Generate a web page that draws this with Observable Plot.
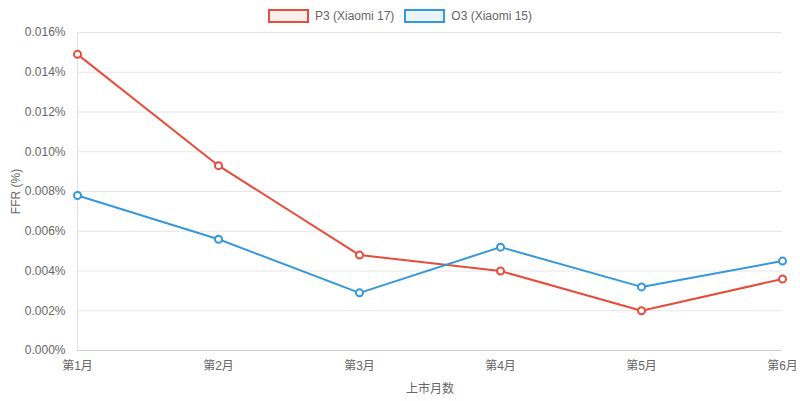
<!DOCTYPE html>
<html><head><meta charset="utf-8">
<script src="https://cdn.jsdelivr.net/npm/d3@7"></script>
<script src="https://cdn.jsdelivr.net/npm/@observablehq/plot@0.6"></script>
<style>
body{margin:0;background:#fff;font-family:"Liberation Sans",Arial,"Noto Sans CJK SC",sans-serif;}
#legend{height:24px;display:flex;justify-content:center;align-items:center;gap:0;font-size:12px;color:#666;padding-top:8px;box-sizing:border-box;}
.item{display:flex;align-items:center;margin:0 5px;}
.box{width:37px;height:10px;border-width:2px;border-style:solid;margin-right:6px;}
</style></head><body>
<div id="legend"></div>
<div id="chart"></div>
<script>
const months = ["第1月","第2月","第3月","第4月","第5月","第6月"];
const seriesNames = ["P3 (Xiaomi 17)","O3 (Xiaomi 15)"];
const p3 = [0.0149,0.0093,0.0048,0.0040,0.0020,0.0036];
const o3 = [0.0078,0.0056,0.0029,0.0052,0.0032,0.0045];
const yTicks = [0,0.002,0.004,0.006,0.008,0.010,0.012,0.014,0.016];
const colors = ["#e74c3c","#3498db"];
const fills = ["rgba(231,76,60,0.1)","rgba(52,152,219,0.1)"];

const data = [];
[p3,o3].forEach((arr,si)=>arr.forEach((v,i)=>data.push({series:seriesNames[si],month:months[i],v})));

const leg = document.getElementById("legend");
seriesNames.forEach((n,i)=>{
  const it=document.createElement("div");it.className="item";
  const b=document.createElement("div");b.className="box";b.style.borderColor=colors[i];b.style.background=fills[i];
  const t=document.createElement("span");t.textContent=n;
  it.appendChild(b);it.appendChild(t);leg.appendChild(it);
});

const chart = Plot.plot({
  width:800,height:377,
  marginLeft:77,marginRight:18,marginTop:8,marginBottom:51,
  style:{fontFamily:'"Liberation Sans",Arial,"Noto Sans CJK SC",sans-serif',fontSize:"12px",color:"#666",background:"#fff"},
  x:{type:"point",domain:months,padding:0},
  y:{domain:[0,0.016]},
  color:{domain:seriesNames,range:colors},
  marks:[
    Plot.gridY(yTicks,{stroke:"#e6e6e6",strokeOpacity:1}),
    Plot.ruleX([months[0]],{stroke:"#e0e0e0"}),
    Plot.ruleY([0],{stroke:"#cfcfcf"}),
    Plot.axisY(yTicks,{tickSize:0,tickPadding:12,tickFormat:d=>d.toFixed(3)+"%",fill:"#666",
      label:"FFR (%)",labelAnchor:"center",labelArrow:"none",labelOffset:66}),
    Plot.axisX({tickSize:0,tickPadding:11,fill:"#666",label:"上市月数",labelAnchor:"center",labelArrow:"none",labelOffset:42}),
    Plot.line(data,{x:"month",y:"v",stroke:"series",z:"series",strokeWidth:2}),
    Plot.dot(data,{x:"month",y:"v",stroke:"series",fill:"white",r:3.5,strokeWidth:2})
  ]
});
document.getElementById("chart").appendChild(chart);
</script>
</body></html>
